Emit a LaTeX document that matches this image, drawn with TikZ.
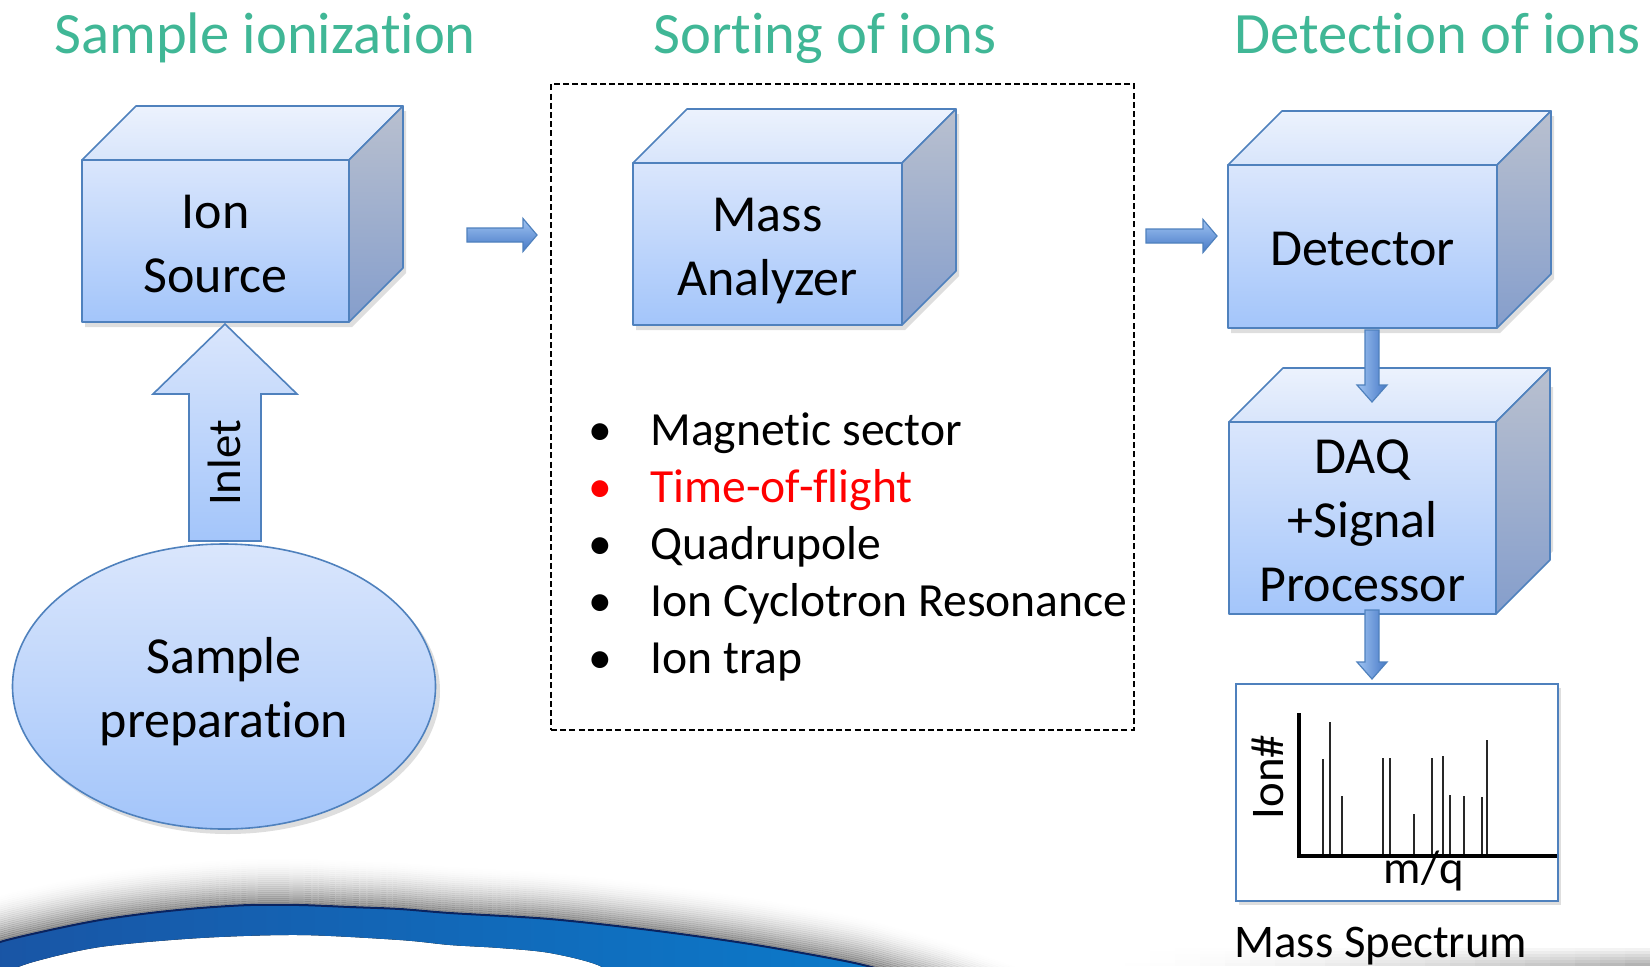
\documentclass[tikz,border=0pt]{standalone}
\usepackage{fontspec}
\setmainfont{Carlito}[Ligatures=NoCommon]
\usetikzlibrary{shapes.geometric,calc}
\definecolor{edgeblue}{RGB}{79,129,189}
\definecolor{frontT}{RGB}{218,230,252}
\definecolor{frontB}{RGB}{163,197,250}
\definecolor{topT}{RGB}{236,242,253}
\definecolor{topB}{RGB}{216,229,251}
\definecolor{sideT}{RGB}{185,192,207}
\definecolor{sideB}{RGB}{133,158,204}
\definecolor{arrT}{RGB}{160,196,242}
\definecolor{arrB}{RGB}{70,120,198}
\definecolor{titlegreen}{RGB}{64,183,150}
\definecolor{swL}{RGB}{25,85,165}
\definecolor{swR}{RGB}{10,125,205}
\definecolor{swEdge}{RGB}{10,35,95}
\definecolor{peakgray}{RGB}{40,40,40}
\newcommand\cubefont{\fontsize{26pt}{32pt}\selectfont}
\newcommand\cs{\rule[-6.5pt]{0pt}{32pt}}
\tikzset{
  face/.style={draw=edgeblue, line width=0.8pt, line join=round},
  cubefront/.style={face, top color=frontT, bottom color=frontB, inner sep=0pt, outer sep=0pt, align=center, font=\cubefont},
  cubetop/.style={face, top color=topT, bottom color=topB},
  cubeside/.style={face, top color=sideT, bottom color=sideB},
  titletext/.style={font=\fontsize{29.3pt}{35pt}\selectfont, text=titlegreen, inner sep=0pt},
  listitem/.style={font=\fontsize{23.8pt}{28pt}\selectfont, inner sep=0pt},
  smalltext/.style={font=\fontsize{23.4pt}{28pt}\selectfont, inner sep=0pt},
  blockh/.style={draw=edgeblue, line width=0.6pt, line join=miter, top color=arrT, bottom color=arrB},
  blockv/.style={draw=edgeblue, line width=0.6pt, line join=miter, left color=arrT, right color=arrB},
  inletarrow/.style={face, line join=miter, top color=frontT, bottom color=frontB},
  peak/.style={draw=peakgray, line width=0.65pt},
  softshadow/.style={fill=black, opacity=0.13}
}
% cube: name, x1, y1 (top), x2, y2 (bottom), text
\newcommand\cubebox[6]{%
  \fill[softshadow] (#2+3,#3+5) -- (#2+57,#3-49) -- (#4+57,#3-49) -- (#4+57,#5-49) -- (#4+3,#5+5) -- (#2+3,#5+5) -- cycle;
  \node[cubefront, minimum width={(#4-#2)*0.5pt}, minimum height={(#5-#3)*0.5pt}] (#1) at ({(#2+#4)/2},{(#3+#5)/2}) {#6};
  \draw[cubetop] (#1.north west) -- ++(27pt,27pt) -- ($(#1.north east)+(27pt,27pt)$) -- (#1.north east) -- cycle;
  \draw[cubeside] (#1.north east) -- ++(27pt,27pt) -- ($(#1.south east)+(27pt,27pt)$) -- (#1.south east) -- cycle;
}
% block arrows: style, start, end, shaft half width, head half width, head length
\newcommand\harrow[6]{%
  \path[#1] let \p1=(#2), \p2=(#3) in
    (\x1,\y1+#4) -- (\x2-#6,\y1+#4) -- (\x2-#6,\y1+#5) -- (\x2,\y1) -- (\x2-#6,\y1-#5) -- (\x2-#6,\y1-#4) -- (\x1,\y1-#4) -- cycle;}
\newcommand\vdarrow[6]{%
  \path[#1] let \p1=(#2), \p2=(#3) in
    (\x1-#4,\y1) -- (\x1-#4,\y2+#6) -- (\x1-#5,\y2+#6) -- (\x1,\y2) -- (\x1+#5,\y2+#6) -- (\x1+#4,\y2+#6) -- (\x1+#4,\y1) -- cycle;}
\newcommand\vuarrow[6]{%
  \path[#1] let \p1=(#2), \p2=(#3) in
    (\x1-#4,\y1) -- (\x1-#4,\y2-#6) -- (\x1-#5,\y2-#6) -- (\x1,\y2) -- (\x1+#5,\y2-#6) -- (\x1+#4,\y2-#6) -- (\x1+#4,\y1) -- cycle;}
\begin{document}
\begin{tikzpicture}[x=0.5pt,y=-0.5pt]
\useasboundingbox (0,0) rectangle (1650,966);
\fill[white] (0,0) rectangle (1650,966);

% ---- bottom swoosh ----
\begin{scope}
\clip (0,0) rectangle (1650,966);
\foreach \xx in {1100,1125,...,1625}{
  \foreach \k in {0,...,5}{
    \pgfmathsetmacro\op{0.32*((\xx-1100)/550)^1.6*(1-\k/6)}
    \fill[black, opacity=\op] (\xx,{966-3*\k-3}) rectangle (\xx+25,{966-3*\k});
  }
}
\foreach \d in {1,3,...,49}{
  \pgfmathsetmacro\op{0.42*(1-\d/50)^2}
  \draw[black, opacity=\op, line width=1.1pt, yshift=\d*0.5pt]
    plot[smooth] coordinates {(-10,950) (0,942) (50,930) (100,920) (150,913) (200,908) (250,905) (300,905) (350,907) (400,909) (450,913) (550,919) (650,930) (750,944) (850,962) (900,975) (950,990) (1050,1025) (1150,1060)};
}
\fill[left color=swL, right color=swR]
  plot[smooth] coordinates {(-10,950) (0,942) (50,930) (100,920) (150,913) (200,908) (250,905) (300,905) (350,907) (400,909) (450,913) (550,919) (650,930) (750,944) (850,962) (900,975) (950,990)}
  -- plot[smooth] coordinates {(630,990) (600,966) (550,953) (500,948) (450,945) (400,940) (300,935) (200,938) (100,947) (33,962) (0,975) (-10,985)} -- cycle;
\draw[swEdge, line width=1pt]
  plot[smooth] coordinates {(-10,950) (0,942) (50,930) (100,920) (150,913) (200,908) (250,905) (300,905) (350,907) (400,909) (450,913) (550,919) (650,930) (750,944) (850,962) (900,975) (950,990)};
\end{scope}

% ---- titles ----
\node[titletext, anchor=base west] (title1) at (54,53.5) {Sample ionization};
\node[titletext, anchor=base west] (title2) at (653,53.5) {Sorting of ions};
\node[titletext, anchor=base west] (title3) at (1234,53.5) {Detection of ions};

% ---- sample preparation ----
\fill[softshadow] (228,691) ellipse (106pt and 71.5pt);
\node[ellipse, face, top color=frontT, bottom color=frontB, minimum width=211.5pt, minimum height=142.5pt, inner sep=0pt, outer sep=0pt, align=center, font=\cubefont] (sample) at (224,686.5) {\cs Sample\\\cs preparation};

% ---- cubes ----
\cubebox{ionsrc}{82}{160}{349}{322}{\cs Ion\\\cs Source}
\cubebox{analyzer}{633}{163}{902}{325}{\cs Mass\\\cs Analyzer}
\cubebox{detector}{1228}{165}{1497}{328}{\cs Detector}
\cubebox{daq}{1229}{436}{1496}{600}{\cs DAQ\\\cs +Signal\\\cs Processor}

% ---- inlet arrow ----
\coordinate (inS) at (225,541);
\coordinate (inE) at (225,324);
\vuarrow{inletarrow}{inS}{inE}{18pt}{36pt}{35pt}
\node[smalltext, rotate=90, anchor=base] (inlet) at (240,463) {Inlet};

% ---- sorting box ----
\node[draw=black, line width=0.75pt, dash pattern=on 3pt off 1.6pt, minimum width=291.5pt, minimum height=323pt, inner sep=0pt, outer sep=0pt] (sortbox) at (842.5,407) {};
\foreach \i/\t/\c in {0/Magnetic sector/black, 1/Time-of-flight/red, 2/Quadrupole/black, 3/Ion Cyclotron Resonance/black, 4/Ion trap/black}
  \node[listitem, text=\c, anchor=base west] (item\i) at (650,{445+57*\i}) {\llap{\makebox[31pt][l]{•}}\t};

% ---- horizontal arrows ----
\coordinate (a1s) at (467,235);
\coordinate (a1e) at (537,235);
\harrow{blockh}{a1s}{a1e}{3.5pt}{8.25pt}{7pt}
\coordinate (a2s) at (1146,236);
\coordinate (a2e) at (1217,236);
\harrow{blockh}{a2s}{a2e}{3.5pt}{8.25pt}{7pt}

% ---- vertical arrows ----
\coordinate (d1s) at (1372,330);
\coordinate (d1e) at (1372,402);
\vdarrow{blockv}{d1s}{d1e}{3.5pt}{7.5pt}{8.5pt}
\coordinate (d2s) at (1372,610);
\coordinate (d2e) at (1372,679);
\vdarrow{blockv}{d2s}{d2e}{3.5pt}{7.5pt}{8.5pt}

% ---- spectrum ----
\fill[softshadow] (1239,688) rectangle (1561,905);
\node[draw=edgeblue, line width=0.8pt, fill=white, minimum width=161pt, minimum height=108.5pt, inner sep=0pt, outer sep=0pt] (spec) at (1397,792.5) {};
\foreach \x/\t in {1323/759,1330/722,1342/796,1383/758,1390/758,1414/814,1432/758,1443/756,1450/795,1464/796,1482/797,1487/740}
  \draw[peak] (\x,856) -- (\x,\t);
\draw[black, line width=2pt, line join=miter] (1299,713) -- (1299,856) -- (1557,856);
\node[smalltext, rotate=90, anchor=base] (ionnum) at (1283,777) {Ion\#};
\node[smalltext, anchor=base] (mq) at (1424,883) {m/q};
\node[smalltext, anchor=base west] (mslabel) at (1234,957) {Mass Spectrum};
\end{tikzpicture}
\end{document}
